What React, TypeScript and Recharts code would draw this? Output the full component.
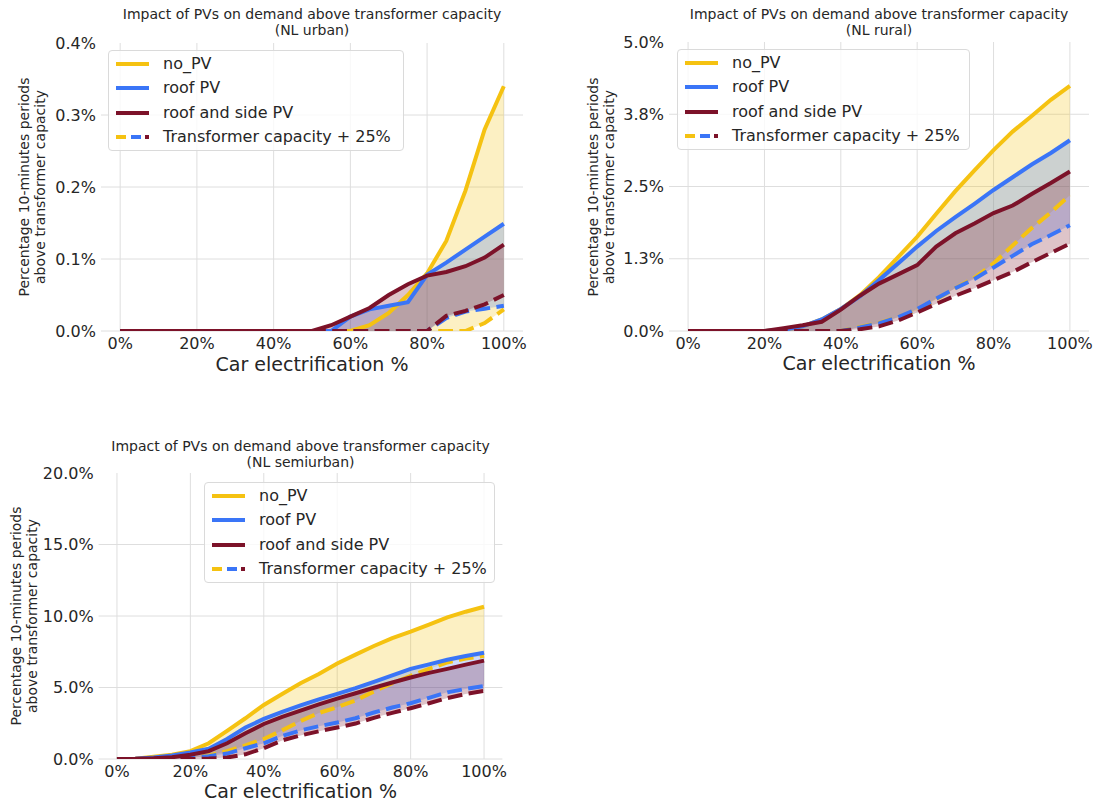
import React from 'react';
import { ComposedChart, Area, Line, XAxis, YAxis, CartesianGrid } from 'recharts';

// ---------- data ----------
const carElectrification = [0, 5, 10, 15, 20, 25, 30, 35, 40, 45, 50, 55, 60, 65, 70, 75, 80, 85, 90, 95, 100];

// NL urban (% of 10-minute periods above transformer capacity)
const urbanNoPV = [0, 0, 0, 0, 0, 0, 0, 0, 0, 0, 0, 0, 0, 0.008, 0.025, 0.05, 0.08, 0.125, 0.195, 0.28, 0.34];
const urbanRoofPV = [0, 0, 0, 0, 0, 0, 0, 0, 0, 0, 0, 0, 0.02, 0.03, 0.035, 0.04, 0.078, 0.095, 0.113, 0.131, 0.149];
const urbanRoofSidePV = [0, 0, 0, 0, 0, 0, 0, 0, 0, 0, 0, 0.008, 0.02, 0.032, 0.05, 0.065, 0.077, 0.082, 0.09, 0.102, 0.12];
const urbanNoPV25 = [0, 0, 0, 0, 0, 0, 0, 0, 0, 0, 0, 0, 0, 0, 0, 0, 0, 0, 0, 0.011, 0.03];
const urbanRoofPV25 = [0, 0, 0, 0, 0, 0, 0, 0, 0, 0, 0, 0, 0, 0, 0, 0, 0, 0.018, 0.027, 0.031, 0.035];
const urbanRoofSidePV25 = [0, 0, 0, 0, 0, 0, 0, 0, 0, 0, 0, 0, 0, 0, 0, 0, 0, 0.021, 0.028, 0.037, 0.05];

// NL rural
const ruralNoPV = [0, 0, 0, 0, 0, 0.02, 0.08, 0.2, 0.38, 0.62, 0.93, 1.28, 1.63, 2.03, 2.42, 2.78, 3.13, 3.45, 3.72, 4.0, 4.24];
const ruralRoofPV = [0, 0, 0, 0, 0, 0.02, 0.08, 0.2, 0.38, 0.6, 0.88, 1.17, 1.46, 1.73, 1.97, 2.2, 2.44, 2.66, 2.88, 3.08, 3.3];
const ruralRoofSidePV = [0, 0, 0, 0, 0, 0.05, 0.1, 0.16, 0.37, 0.61, 0.82, 0.98, 1.14, 1.46, 1.69, 1.86, 2.04, 2.17, 2.37, 2.56, 2.76];
const ruralNoPV25 = [0, 0, 0, 0, 0, 0, 0, 0, 0, 0.07, 0.14, 0.24, 0.36, 0.55, 0.74, 0.92, 1.17, 1.48, 1.78, 2.05, 2.35];
const ruralRoofPV25 = [0, 0, 0, 0, 0, 0, 0, 0, 0, 0.06, 0.13, 0.24, 0.38, 0.56, 0.74, 0.9, 1.1, 1.3, 1.5, 1.66, 1.83];
const ruralRoofSidePV25 = [0, 0, 0, 0, 0, 0, 0, 0, 0, 0.03, 0.08, 0.18, 0.32, 0.47, 0.61, 0.74, 0.88, 1.02, 1.19, 1.35, 1.51];

// NL semiurban
const semiNoPV = [0, 0.02, 0.15, 0.3, 0.55, 1.1, 1.97, 2.85, 3.78, 4.55, 5.3, 5.94, 6.68, 7.3, 7.9, 8.45, 8.9, 9.4, 9.9, 10.3, 10.65];
const semiRoofPV = [0, 0.01, 0.1, 0.25, 0.45, 0.72, 1.4, 2.2, 2.8, 3.3, 3.75, 4.17, 4.56, 4.95, 5.4, 5.85, 6.3, 6.62, 6.94, 7.2, 7.43];
const semiRoofSidePV = [0, 0.01, 0.05, 0.12, 0.3, 0.55, 1.1, 1.8, 2.45, 2.94, 3.38, 3.82, 4.22, 4.6, 4.98, 5.35, 5.7, 6.02, 6.3, 6.6, 6.88];
const semiNoPV25 = [0, 0, 0, 0.05, 0.1, 0.25, 0.55, 0.95, 1.4, 2.0, 2.65, 3.22, 3.62, 4.1, 4.72, 5.3, 5.82, 6.3, 6.75, 7.02, 7.22];
const semiRoofPV25 = [0, 0, 0, 0.02, 0.08, 0.2, 0.38, 0.75, 1.1, 1.6, 2.0, 2.29, 2.55, 2.85, 3.25, 3.6, 3.9, 4.28, 4.66, 4.9, 5.1];
const semiRoofSidePV25 = [0, 0, 0, 0, 0, 0.03, 0.1, 0.33, 0.76, 1.3, 1.65, 1.94, 2.2, 2.48, 2.88, 3.23, 3.55, 3.9, 4.26, 4.55, 4.76];

// ticks
const xTicks = [0, 20, 40, 60, 80, 100];
const xTickLabels = ['0%', '20%', '40%', '60%', '80%', '100%'];
const urbanYTicks = [0, 0.1, 0.2, 0.3, 0.4];
const urbanYTickLabels = ['0.0%', '0.1%', '0.2%', '0.3%', '0.4%'];
const ruralYTicks = [0, 1.25, 2.5, 3.75, 5];
const ruralYTickLabels = ['0.0%', '1.3%', '2.5%', '3.8%', '5.0%'];
const semiYTicks = [0, 5, 10, 15, 20];
const semiYTickLabels = ['0.0%', '5.0%', '10.0%', '15.0%', '20.0%'];

const seriesNames = ['no_PV', 'roof PV', 'roof and side PV', 'Transformer capacity + 25%'];

// ---------- style ----------
const YELLOW = '#F5C211';
const BLUE = '#3A75F7';
const RED = '#7C1229';
const GRID = '#DEDEDE';
const TEXT = '#262626';
const FONT = '"DejaVu Sans", Verdana, sans-serif';

type Row = {
  x: number; a: number; b: number; c: number; a25: number; b25: number; c25: number;
};

function buildRows(a: number[], b: number[], c: number[], a25: number[], b25: number[], c25: number[]): Row[] {
  return carElectrification.map((x, i) => ({ x, a: a[i], b: b[i], c: c[i], a25: a25[i], b25: b25[i], c25: c25[i] }));
}

const urbanRows = buildRows(urbanNoPV, urbanRoofPV, urbanRoofSidePV, urbanNoPV25, urbanRoofPV25, urbanRoofSidePV25);
const ruralRows = buildRows(ruralNoPV, ruralRoofPV, ruralRoofSidePV, ruralNoPV25, ruralRoofPV25, ruralRoofSidePV25);
const semiRows = buildRows(semiNoPV, semiRoofPV, semiRoofSidePV, semiNoPV25, semiRoofPV25, semiRoofSidePV25);

type PanelProps = {
  left: number; top: number; width: number; height: number;
  plotLeft: number; plotRight: number; plotTop: number; plotBottom: number;
  rows: Row[]; yTicks: number[]; yTickLabels: string[];
};

function Panel(p: PanelProps) {
  const yAxisWidth = p.plotLeft - p.left;
  const xAxisHeight = p.top + p.height - p.plotBottom;
  const yMax = p.yTicks[p.yTicks.length - 1];
  const tickStyle = { fontSize: 16, fill: TEXT, fontFamily: FONT };
  const dash = '14.8 6.4';
  return (
    <div style={{ position: 'absolute', left: p.left, top: p.top, width: p.width, height: p.height }}>
      <ComposedChart
        width={p.width}
        height={p.height}
        data={p.rows}
        margin={{ top: p.plotTop - p.top, right: p.left + p.width - p.plotRight, bottom: 0, left: 0 }}
      >
        <CartesianGrid
          stroke={GRID}
          strokeWidth={1}
          horizontalValues={p.yTicks.slice(0, -1)}
          verticalValues={xTicks}
        />
        <XAxis
          dataKey="x"
          type="number"
          domain={[-5, 105]}
          ticks={xTicks}
          tickFormatter={(v: number) => xTickLabels[xTicks.indexOf(v)] ?? ''}
          axisLine={false}
          tickLine={false}
          tickSize={0}
          tickMargin={7}
          height={xAxisHeight}
          tick={tickStyle}
          interval={0}
        />
        <YAxis
          type="number"
          domain={[0, yMax]}
          ticks={p.yTicks}
          tickFormatter={(v: number) => p.yTickLabels[p.yTicks.indexOf(v)] ?? ''}
          axisLine={false}
          tickLine={false}
          tickSize={0}
          tickMargin={5}
          width={yAxisWidth}
          tick={tickStyle}
          interval={0}
          allowDataOverflow
        />
        <Area type="linear" dataKey={(d: Row) => [d.a25, d.a]} stroke="none" fill={YELLOW} fillOpacity={0.25} isAnimationActive={false} />
        <Area type="linear" dataKey={(d: Row) => [d.b25, d.b]} stroke="none" fill={BLUE} fillOpacity={0.25} isAnimationActive={false} />
        <Area type="linear" dataKey={(d: Row) => [d.c25, d.c]} stroke="none" fill={RED} fillOpacity={0.25} isAnimationActive={false} />
        <Line type="linear" dataKey="a" stroke={YELLOW} strokeWidth={4} dot={false} isAnimationActive={false} />
        <Line type="linear" dataKey="a25" stroke={YELLOW} strokeWidth={4} strokeDasharray={dash} dot={false} isAnimationActive={false} />
        <Line type="linear" dataKey="b" stroke={BLUE} strokeWidth={4} dot={false} isAnimationActive={false} />
        <Line type="linear" dataKey="b25" stroke={BLUE} strokeWidth={4} strokeDasharray={dash} dot={false} isAnimationActive={false} />
        <Line type="linear" dataKey="c" stroke={RED} strokeWidth={4} dot={false} isAnimationActive={false} />
        <Line type="linear" dataKey="c25" stroke={RED} strokeWidth={4} strokeDasharray={dash} dot={false} isAnimationActive={false} />
      </ComposedChart>
    </div>
  );
}

function LegendBox({ left, top, width }: { left: number; top: number; width: number }) {
  const rowCenters = [12.7, 37.3, 61.7, 86];
  const colors = [YELLOW, BLUE, RED];
  return (
    <div
      style={{
        position: 'absolute', left, top, width, height: 101, boxSizing: 'border-box',
        border: '1px solid #DADADA', borderRadius: 4, background: 'rgba(255,255,255,0.8)',
        fontFamily: FONT, fontSize: 16, color: TEXT,
      }}
    >
      {seriesNames.map((name, i) => (
        <div key={name} style={{ position: 'absolute', left: 6, top: rowCenters[i] - 12, height: 24, display: 'flex', alignItems: 'center', whiteSpace: 'nowrap' }}>
          <svg width={34} height={24} style={{ display: 'block' }}>
            {i < 3 ? (
              <line x1={1} x2={34} y1={12} y2={12} stroke={colors[i]} strokeWidth={4} />
            ) : (
              <g>
                <line x1={1} x2={11} y1={12} y2={12} stroke={YELLOW} strokeWidth={4} />
                <line x1={16} x2={26} y1={12} y2={12} stroke={BLUE} strokeWidth={4} />
                <line x1={30} x2={34} y1={12} y2={12} stroke={RED} strokeWidth={4} />
              </g>
            )}
          </svg>
          <span style={{ marginLeft: 14, lineHeight: '24px' }}>{name}</span>
        </div>
      ))}
    </div>
  );
}

function TextAt({ x, y, size, children, rotate }: { x: number; y: number; size: number; children: React.ReactNode; rotate?: boolean }) {
  return (
    <div
      style={{
        position: 'absolute', left: x, top: y, transform: `translate(-50%, -50%)${rotate ? ' rotate(-90deg)' : ''}`,
        fontFamily: FONT, fontSize: size, color: TEXT, whiteSpace: 'nowrap', textAlign: 'center', lineHeight: 1.15,
      }}
    >
      {children}
    </div>
  );
}

const TITLE = 'Impact of PVs on demand above transformer capacity';

export default function App() {
  return (
    <div style={{ position: 'absolute', left: 0, top: 0, width: 1099, height: 805, background: '#fff', overflow: 'hidden' }}>
      <Panel left={0} top={0} width={545} height={400} plotLeft={101} plotRight={523} plotTop={43} plotBottom={331}
        rows={urbanRows} yTicks={urbanYTicks} yTickLabels={urbanYTickLabels} />
      <Panel left={560} top={0} width={539} height={400} plotLeft={669} plotRight={1089} plotTop={42} plotBottom={331}
        rows={ruralRows} yTicks={ruralYTicks} yTickLabels={ruralYTickLabels} />
      <Panel left={0} top={430} width={540} height={375} plotLeft={98.6} plotRight={502.4} plotTop={473} plotBottom={759}
        rows={semiRows} yTicks={semiYTicks} yTickLabels={semiYTickLabels} />

      <TextAt x={312} y={22} size={14}>{TITLE}<br />(NL urban)</TextAt>
      <TextAt x={879} y={22} size={14}>{TITLE}<br />(NL rural)</TextAt>
      <TextAt x={300.5} y={454} size={14}>{TITLE}<br />(NL semiurban)</TextAt>

      <TextAt x={32} y={187} size={14} rotate>Percentage 10-minutes periods<br />above transformer capacity</TextAt>
      <TextAt x={601} y={187} size={14} rotate>Percentage 10-minutes periods<br />above transformer capacity</TextAt>
      <TextAt x={24} y={616} size={14} rotate>Percentage 10-minutes periods<br />above transformer capacity</TextAt>

      <TextAt x={312} y={365} size={19}>Car electrification %</TextAt>
      <TextAt x={879} y={364} size={19}>Car electrification %</TextAt>
      <TextAt x={300.5} y={792} size={19}>Car electrification %</TextAt>

      <LegendBox left={108} top={50} width={296} />
      <LegendBox left={677} top={49} width={293} />
      <LegendBox left={204} top={482} width={291} />
    </div>
  );
}
